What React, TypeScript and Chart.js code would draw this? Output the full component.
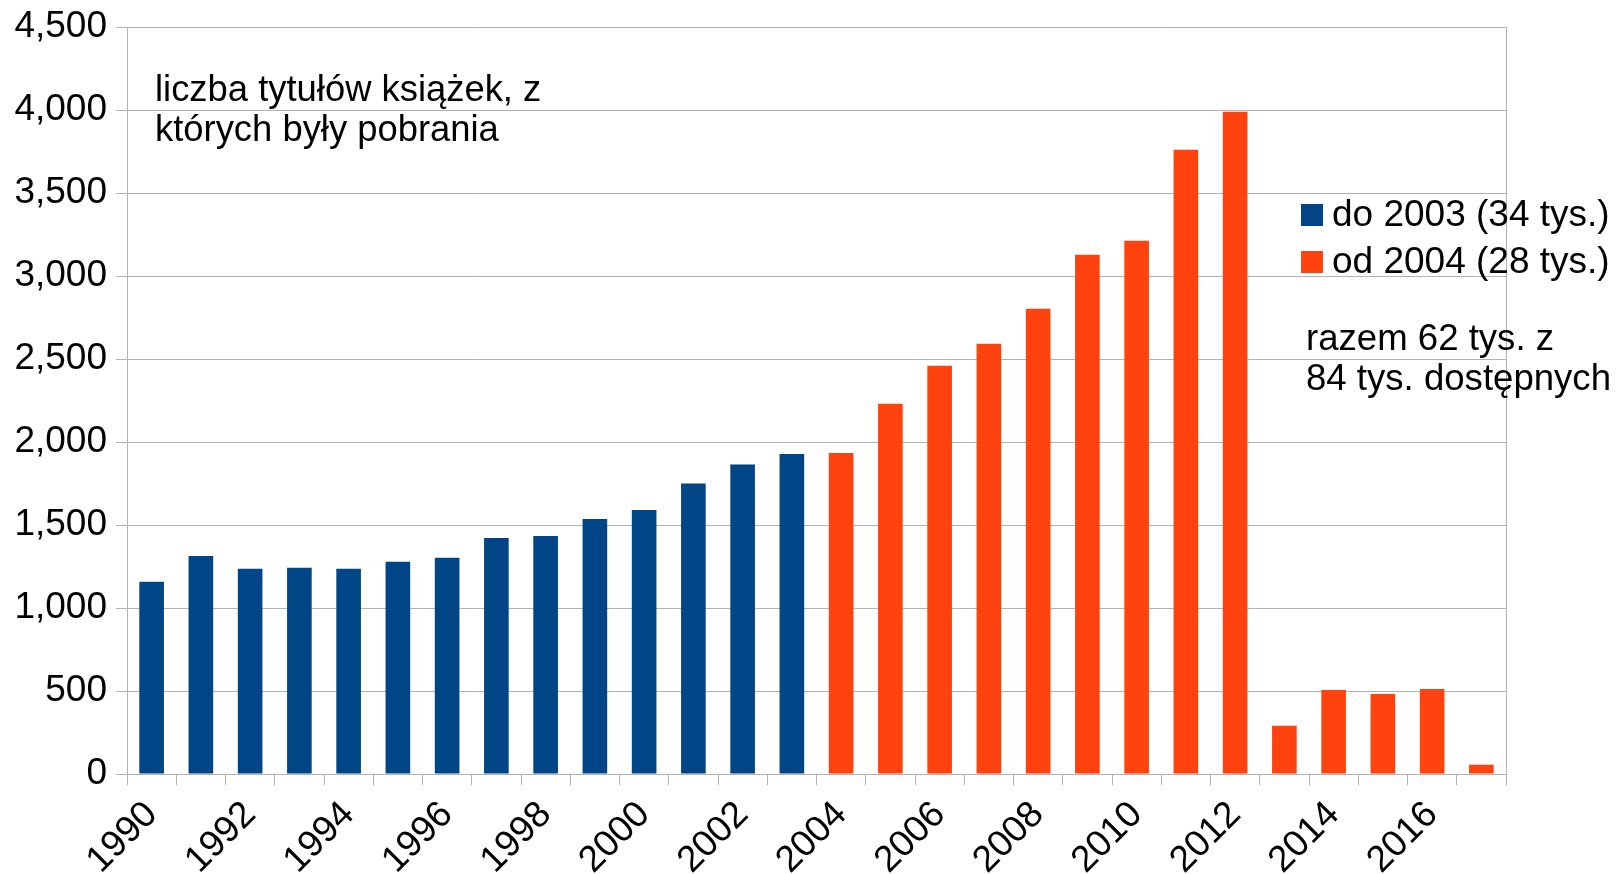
import React, { useEffect, useRef } from "react";
import { Chart, registerables } from "chart.js";

Chart.register(...registerables);

const years: string[] = [
  "1990", "1991", "1992", "1993", "1994", "1995", "1996", "1997", "1998", "1999",
  "2000", "2001", "2002", "2003", "2004", "2005", "2006", "2007", "2008", "2009",
  "2010", "2011", "2012", "2013", "2014", "2015", "2016", "2017",
];

const before2004: (number | null)[] = [
  1158, 1314, 1236, 1242, 1236, 1278, 1302, 1422, 1434, 1536,
  1590, 1750, 1864, 1928,
  null, null, null, null, null, null, null, null, null, null, null, null, null, null,
];

const from2004: (number | null)[] = [
  null, null, null, null, null, null, null, null, null, null, null, null, null, null,
  1934, 2230, 2460, 2592, 2802, 3128, 3212, 3760, 3990, 290, 506, 482, 512, 56,
];

const seriesLabels = ["do 2003 (34 tys.)", "od 2004 (28 tys.)"];
const seriesColors = ["#004586", "#ff420e"];
const noteTopLeft = ["liczba tytułów książek, z", "których były pobrania"];
const noteRight = ["razem 62 tys. z", "84 tys. dostępnych"];

const FONT = "'Liberation Sans', Arial, sans-serif";
const GRID = "#b3b3b3";
const FS = 37;

export default function App() {
  const ref = useRef<HTMLCanvasElement | null>(null);

  useEffect(() => {
    if (!ref.current) return;
    const overlay = {
      id: "overlay",
      afterDraw(chart: any) {
        const ctx = chart.ctx as CanvasRenderingContext2D;
        const a = chart.chartArea;
        ctx.save();
        ctx.strokeStyle = GRID;
        ctx.lineWidth = 1;
        ctx.beginPath();
        ctx.moveTo(Math.round(a.right) + 0.5, a.top);
        ctx.lineTo(Math.round(a.right) + 0.5, a.bottom + 11);
        ctx.stroke();

        ctx.fillStyle = "#000";
        ctx.textAlign = "left";
        ctx.textBaseline = "alphabetic";
        ctx.font = `36.4px ${FONT}`;
        noteTopLeft.forEach((t, i) => ctx.fillText(t, 155, 101 + i * 40));
        ctx.font = `${FS}px ${FONT}`;
        seriesLabels.forEach((t, i) => {
          const base = 226 + i * 47;
          ctx.fillStyle = seriesColors[i];
          ctx.fillRect(1301, base - 22, 22, 22);
          ctx.fillStyle = "#000";
          ctx.fillText(t, 1332, base);
        });
        ctx.font = `36.6px ${FONT}`;
        noteRight.forEach((t, i) => ctx.fillText(t, 1306, 350 + i * 40));
        ctx.restore();
      },
    };

    const chart = new Chart(ref.current, {
      type: "bar",
      data: {
        labels: years,
        datasets: [
          {
            label: seriesLabels[0],
            data: before2004,
            backgroundColor: seriesColors[0],
            grouped: false,
            barPercentage: 0.5,
            categoryPercentage: 1,
          } as any,
          {
            label: seriesLabels[1],
            data: from2004,
            backgroundColor: seriesColors[1],
            grouped: false,
            barPercentage: 0.5,
            categoryPercentage: 1,
          } as any,
        ],
      },
      options: {
        responsive: false,
        animation: false,
        layout: { padding: { top: 27, right: 110, left: 0, bottom: 0 } },
        plugins: {
          legend: { display: false },
          tooltip: { enabled: false },
          title: { display: false },
        },
        scales: {
          x: {
            offset: true,
            grid: {
              offset: true,
              drawOnChartArea: false,
              drawTicks: true,
              tickLength: 11,
              color: GRID,
            },
            border: { display: true, color: GRID },
            ticks: {
              autoSkip: false,
              maxRotation: 45,
              minRotation: 45,
              padding: 8,
              color: "#000",
              font: { family: FONT, size: FS },
              callback: (_v: any, i: number) => (i % 2 === 0 ? years[i] : ""),
            },
            afterFit: (s: any) => {
              s.height = 100;
              s.paddingLeft = 0;
              s.paddingRight = 0;
            },
          },
          y: {
            min: 0,
            max: 4500,
            grid: { color: GRID, tickLength: 11 },
            border: { display: true, color: GRID },
            ticks: {
              stepSize: 500,
              padding: 9,
              color: "#000",
              font: { family: FONT, size: FS },
              callback: (v: any) => Number(v).toLocaleString("en-US"),
            },
            afterFit: (s: any) => {
              s.width = 127;
              s.paddingTop = 0;
              s.paddingBottom = 0;
            },
          },
        },
      },
      plugins: [overlay],
    });
    return () => chart.destroy();
  }, []);

  return (
    <div style={{ position: "fixed", left: 0, top: 0, width: 1616, height: 874, background: "#fff" }}>
      <canvas ref={ref} width={1616} height={874} style={{ display: "block" }} />
    </div>
  );
}
